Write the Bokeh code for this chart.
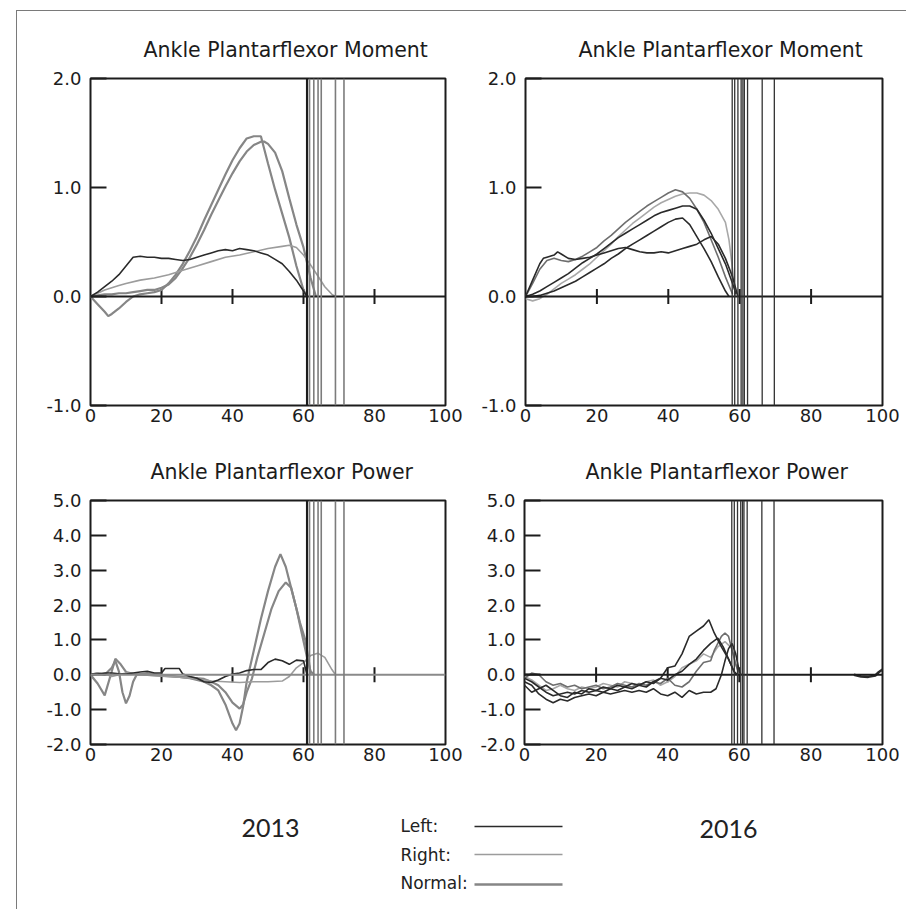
from bokeh.plotting import figure
from bokeh.layouts import row, column
from bokeh.models import Range1d, FixedTicker, PrintfTickFormatter, Span
from bokeh.core.properties import value
from bokeh.embed import file_html
from bokeh.resources import INLINE

# ---------------- data ----------------
x_ticks = [0, 20, 40, 60, 80, 100]
cross_ticks = [20, 40, 60, 80]
moment_ticks = [-1.0, 0.0, 1.0, 2.0]
power_ticks = [-2.0, -1.0, 0.0, 1.0, 2.0, 3.0, 4.0, 5.0]
moment_range = [-1.0, 2.0]
power_range = [-2.0, 5.0]

# toe-off event lines (% gait cycle)
events_2013 = [61.0, 61.7, 62.9, 64.1, 65.0, 69.0, 71.4]
events_2013_dark = [True, False, False, False, False, False, False]
events_2016 = [57.9, 58.6, 59.5, 60.4, 60.9, 61.3, 62.2, 66.3, 69.7]

# 2013 ankle moment
m13_left_x = [0, 2, 4, 6, 8, 10, 12, 14, 16, 18, 20, 22, 24, 26, 28, 30, 32, 34, 36, 38, 40, 42, 44, 46, 48, 50, 52, 54, 56, 58, 60, 61]
m13_left_y = [0.00, 0.04, 0.09, 0.14, 0.20, 0.28, 0.36, 0.37, 0.36, 0.36, 0.35, 0.35, 0.34, 0.33, 0.34, 0.36, 0.38, 0.40, 0.42, 0.43, 0.42, 0.44, 0.43, 0.42, 0.40, 0.38, 0.34, 0.30, 0.23, 0.15, 0.05, 0.00]
m13_right_x = [0, 2, 4, 6, 8, 10, 14, 18, 22, 26, 30, 34, 38, 42, 46, 50, 54, 56, 58, 60, 62, 64, 66, 68, 69]
m13_right_y = [0.00, 0.03, 0.06, 0.08, 0.10, 0.12, 0.15, 0.17, 0.20, 0.24, 0.28, 0.32, 0.36, 0.38, 0.41, 0.44, 0.46, 0.47, 0.45, 0.38, 0.29, 0.19, 0.09, 0.02, 0.00]
m13_norm1_x = [0, 2, 4, 5, 6, 8, 10, 12, 14, 16, 18, 20, 22, 24, 26, 28, 30, 32, 34, 36, 38, 40, 42, 44, 46, 48, 50, 52, 54, 56, 58, 60, 61]
m13_norm1_y = [0.00, -0.07, -0.14, -0.18, -0.16, -0.11, -0.05, 0.00, 0.02, 0.03, 0.04, 0.06, 0.12, 0.20, 0.30, 0.42, 0.55, 0.70, 0.84, 0.98, 1.12, 1.25, 1.36, 1.45, 1.47, 1.47, 1.22, 0.98, 0.76, 0.54, 0.28, 0.06, 0.00]
m13_norm2_x = [0, 2, 4, 6, 8, 10, 12, 14, 16, 18, 20, 22, 24, 26, 28, 30, 32, 34, 36, 38, 40, 42, 44, 46, 48, 49, 50, 52, 54, 56, 58, 60, 62, 63.5]
m13_norm2_y = [0.00, 0.01, 0.02, 0.02, 0.03, 0.03, 0.04, 0.05, 0.06, 0.06, 0.08, 0.11, 0.17, 0.26, 0.36, 0.48, 0.61, 0.75, 0.88, 1.01, 1.13, 1.24, 1.33, 1.39, 1.42, 1.42, 1.40, 1.32, 1.15, 0.90, 0.66, 0.45, 0.17, 0.00]

# 2016 ankle moment
m16_l1_x = [0, 2, 4, 6, 8, 10, 12, 14, 16, 18, 20, 22, 24, 26, 28, 30, 32, 34, 36, 38, 40, 42, 44, 46, 48, 50, 52, 54, 56, 58, 59]
m16_l1_y = [0.00, 0.02, 0.05, 0.09, 0.13, 0.17, 0.21, 0.26, 0.31, 0.35, 0.39, 0.44, 0.49, 0.54, 0.58, 0.62, 0.66, 0.70, 0.74, 0.77, 0.79, 0.81, 0.83, 0.83, 0.80, 0.70, 0.58, 0.44, 0.30, 0.12, 0.02]
m16_l2_x = [0, 2, 4, 6, 8, 10, 12, 14, 16, 18, 20, 22, 24, 26, 28, 30, 32, 34, 36, 38, 40, 42, 44, 46, 48, 50, 52, 54, 56, 57]
m16_l2_y = [0.00, 0.00, 0.01, 0.03, 0.05, 0.08, 0.11, 0.14, 0.18, 0.22, 0.26, 0.30, 0.35, 0.39, 0.44, 0.48, 0.52, 0.56, 0.60, 0.64, 0.68, 0.71, 0.72, 0.66, 0.55, 0.44, 0.32, 0.18, 0.05, 0.00]
m16_l3_x = [0, 2, 4, 5, 6, 8, 9, 10, 12, 14, 16, 18, 20, 22, 24, 26, 28, 30, 32, 34, 36, 38, 40, 42, 44, 46, 48, 50, 52, 54, 56, 58, 59.5]
m16_l3_y = [0.00, 0.15, 0.30, 0.35, 0.36, 0.38, 0.41, 0.39, 0.35, 0.34, 0.35, 0.36, 0.38, 0.40, 0.42, 0.44, 0.45, 0.43, 0.41, 0.40, 0.40, 0.41, 0.40, 0.42, 0.44, 0.46, 0.48, 0.52, 0.55, 0.48, 0.35, 0.18, 0.00]
m16_r1_x = [0, 2, 4, 6, 8, 10, 12, 14, 16, 18, 20, 22, 24, 26, 28, 30, 32, 34, 36, 38, 40, 42, 44, 46, 48, 50, 52, 54, 56, 58]
m16_r1_y = [0.00, 0.12, 0.25, 0.33, 0.35, 0.33, 0.32, 0.34, 0.37, 0.41, 0.45, 0.51, 0.56, 0.62, 0.68, 0.73, 0.78, 0.83, 0.87, 0.91, 0.95, 0.98, 0.96, 0.90, 0.80, 0.68, 0.52, 0.36, 0.18, 0.02]
m16_r2_x = [0, 2, 4, 6, 8, 10, 12, 14, 16, 18, 20, 22, 24, 26, 28, 30, 32, 34, 36, 38, 40, 42, 44, 46, 48, 50, 52, 54, 56, 57, 58, 58.8]
m16_r2_y = [-0.02, -0.04, -0.02, 0.02, 0.07, 0.12, 0.16, 0.20, 0.25, 0.30, 0.36, 0.42, 0.48, 0.55, 0.61, 0.67, 0.72, 0.77, 0.82, 0.86, 0.89, 0.92, 0.94, 0.95, 0.95, 0.93, 0.88, 0.80, 0.68, 0.52, 0.25, 0.00]

# 2013 ankle power
p13_left_x = [0, 2, 4, 6, 8, 10, 12, 14, 16, 18, 20, 21, 25, 26, 28, 30, 32, 34, 36, 38, 40, 42, 44, 46, 48, 50, 52, 54, 56, 58, 60, 61]
p13_left_y = [0.00, 0.02, 0.05, 0.05, 0.03, 0.02, 0.05, 0.08, 0.10, 0.05, 0.05, 0.18, 0.18, 0.02, -0.05, -0.10, -0.20, -0.22, -0.15, -0.05, 0.02, 0.05, 0.12, 0.15, 0.15, 0.35, 0.45, 0.40, 0.30, 0.42, 0.40, 0.00]
p13_right_x = [0, 2, 4, 6, 8, 10, 14, 18, 22, 26, 30, 34, 38, 42, 46, 50, 54, 56, 58, 60, 62, 64, 66, 68, 69]
p13_right_y = [0.00, 0.05, 0.02, -0.05, 0.00, 0.05, 0.00, -0.02, -0.05, -0.08, -0.12, -0.18, -0.20, -0.22, -0.20, -0.20, -0.18, -0.05, 0.20, 0.35, 0.55, 0.62, 0.50, 0.15, 0.00]
p13_norm1_x = [0, 2, 4, 6, 7, 8.5, 10, 12, 16, 20, 24, 28, 32, 34, 36, 38, 40, 41, 42, 43, 44, 46, 48, 50, 52, 53.5, 55, 57, 59, 60.5, 61.5, 62]
p13_norm1_y = [0.00, -0.25, -0.59, 0.10, 0.46, 0.30, 0.08, 0.03, 0.00, -0.03, -0.05, -0.10, -0.20, -0.30, -0.45, -0.85, -1.40, -1.59, -1.40, -0.90, -0.20, 0.70, 1.60, 2.40, 3.10, 3.46, 3.10, 2.30, 1.50, 1.00, 0.40, 0.00]
p13_norm2_x = [0, 2, 4, 6, 7, 8, 9, 10, 11, 12, 13, 16, 20, 24, 28, 32, 34, 36, 38, 40, 42, 43, 44, 45.5, 47, 49, 51, 53, 55, 56.5, 58, 59.5, 61, 62, 63]
p13_norm2_y = [0.00, 0.05, 0.00, 0.20, 0.40, 0.10, -0.50, -0.82, -0.60, -0.20, 0.00, 0.05, 0.00, -0.05, -0.08, -0.12, -0.20, -0.30, -0.50, -0.80, -0.97, -0.85, -0.50, -0.10, 0.50, 1.20, 1.90, 2.40, 2.65, 2.50, 1.90, 1.20, 0.50, 0.10, 0.00]

# 2016 ankle power
p16_l1_x = [0, 2, 4, 6, 8, 10, 12, 14, 16, 18, 20, 22, 24, 26, 28, 30, 32, 34, 36, 38, 40, 42, 44, 46, 48, 50, 51.5, 53, 55, 57, 58.5, 59]
p16_l1_y = [-0.10, -0.20, -0.35, -0.50, -0.60, -0.55, -0.50, -0.55, -0.45, -0.50, -0.45, -0.50, -0.40, -0.45, -0.35, -0.40, -0.30, -0.35, -0.20, -0.10, 0.20, 0.25, 0.60, 1.10, 1.25, 1.40, 1.58, 1.20, 0.80, 0.45, 0.10, 0.00]
p16_l2_x = [0, 2, 4, 6, 8, 10, 12, 14, 16, 18, 20, 22, 24, 26, 28, 30, 32, 34, 36, 38, 40, 42, 44, 46, 48, 50, 52, 54, 55.5, 57, 58.5, 59.5]
p16_l2_y = [-0.30, -0.50, -0.40, -0.30, -0.45, -0.60, -0.65, -0.50, -0.55, -0.40, -0.45, -0.35, -0.40, -0.30, -0.35, -0.25, -0.30, -0.20, -0.25, -0.10, -0.15, 0.00, 0.10, 0.30, 0.45, 0.70, 0.90, 1.05, 0.80, 0.45, 0.10, 0.00]
p16_l3_x = [0, 2, 4, 6, 8, 10, 12, 14, 16, 18, 20, 22, 24, 26, 28, 30, 32, 34, 36, 38, 40, 42, 44, 46, 48, 50, 52, 53.5, 55, 56, 57, 58, 59, 60, 60.5]
p16_l3_y = [-0.20, -0.30, -0.55, -0.70, -0.80, -0.70, -0.75, -0.65, -0.60, -0.55, -0.60, -0.50, -0.55, -0.50, -0.45, -0.50, -0.45, -0.50, -0.40, -0.55, -0.60, -0.50, -0.65, -0.45, -0.55, -0.50, -0.50, -0.40, 0.00, 0.40, 0.75, 0.90, 0.60, 0.10, 0.00]
p16_r1_x = [0, 2, 4, 6, 8, 10, 12, 14, 16, 18, 20, 22, 24, 26, 28, 30, 32, 34, 36, 38, 40, 42, 44, 46, 48, 50, 52, 53, 55, 56, 57, 58, 59, 60]
p16_r1_y = [-0.10, 0.05, 0.00, -0.20, -0.30, -0.25, -0.35, -0.30, -0.40, -0.35, -0.30, -0.40, -0.35, -0.25, -0.30, -0.35, -0.25, -0.30, -0.20, -0.25, -0.10, -0.30, -0.35, -0.20, 0.10, 0.35, 0.40, 0.70, 1.10, 1.20, 1.10, 0.70, 0.30, 0.00]
p16_r2_x = [0, 2, 4, 6, 8, 10, 12, 14, 16, 18, 20, 22, 24, 26, 28, 30, 32, 34, 36, 38, 40, 42, 44, 46, 48, 50, 52, 54, 56, 57, 58, 59, 60]
p16_r2_y = [-0.05, -0.15, -0.30, -0.45, -0.40, -0.30, -0.40, -0.45, -0.35, -0.40, -0.35, -0.25, -0.30, -0.35, -0.20, -0.25, -0.30, -0.20, -0.15, -0.30, -0.20, -0.05, 0.20, 0.30, 0.40, 0.60, 0.50, 0.80, 0.95, 0.85, 0.75, 0.30, 0.00]
p16_tail_x = [92, 94, 96, 98, 99, 100]
p16_tail_y = [0.00, -0.05, -0.06, -0.02, 0.08, 0.15]

panel_titles = ["Ankle Plantarflexor Moment", "Ankle Plantarflexor Moment",
                "Ankle Plantarflexor Power", "Ankle Plantarflexor Power"]
year_labels = ["2013", "2016"]
legend_labels = ["Left:", "Right:", "Normal:"]

# ---------------- style ----------------
FONT = "DejaVu Sans"
INK = "#1c1c1c"
LEFT_C = "#2a2a2a"
RIGHT_C = "#9c9c9c"
NORM_C = "#868686"
LW = 1.6
NW = 2.2


def panel(title, yr, yticks, w, h, bl, br, bt, bb, toff, zero_color):
    p = figure(width=w, height=h, x_range=Range1d(0, 100), y_range=Range1d(yr[0], yr[1]),
               output_backend="svg", toolbar_location=None,
               min_border_left=bl, min_border_right=br, min_border_top=bt, min_border_bottom=bb)
    p.title.text = title
    p.title.align = "left"
    p.title.offset = toff
    p.title.text_font = FONT
    p.title.text_font_size = "20.5px"
    p.title.text_font_style = "normal"
    p.title.text_color = INK
    p.title.standoff = 33
    p.xgrid.visible = False
    p.ygrid.visible = False
    p.outline_line_color = INK
    p.outline_line_width = 2
    p.background_fill_color = "white"
    p.border_fill_color = "white"

    p.xaxis.ticker = FixedTicker(ticks=x_ticks)
    p.xaxis.major_tick_in = 0
    p.xaxis.major_tick_out = 0
    p.xaxis.minor_tick_line_color = None
    p.xaxis.axis_line_color = None
    p.xaxis.major_label_standoff = 3
    p.xaxis.major_label_text_font = FONT
    p.xaxis.major_label_text_font_size = "18px"
    p.xaxis.major_label_text_color = INK

    p.yaxis.ticker = FixedTicker(ticks=yticks)
    p.yaxis.formatter = PrintfTickFormatter(format="%.1f")
    p.yaxis.major_tick_in = 16
    p.yaxis.major_tick_out = 0
    p.yaxis.major_tick_line_width = 2
    p.yaxis.major_tick_line_color = INK
    p.yaxis.minor_tick_line_color = None
    p.yaxis.axis_line_color = None
    p.yaxis.major_label_standoff = 9
    p.yaxis.major_label_text_font = FONT
    p.yaxis.major_label_text_font_size = "18px"
    p.yaxis.major_label_text_color = INK

    p.add_layout(Span(location=0, dimension="width", line_color=zero_color, line_width=2))
    p.scatter(x=cross_ticks, y=[0] * len(cross_ticks), marker="dash", angle=1.5708,
              size=15, line_color=INK, line_width=2)
    return p


def add_events_2013(p):
    for x, d in zip(events_2013, events_2013_dark):
        if d:
            p.add_layout(Span(location=x, dimension="height", line_color=INK, line_width=2.2))
        else:
            p.add_layout(Span(location=x, dimension="height", line_color="#7c7c7c", line_width=1.6))


def add_events_2016(p):
    for x in events_2016:
        p.add_layout(Span(location=x, dimension="height", line_color="#333333", line_width=1.3))


# top-left: 2013 moment
p1 = panel(panel_titles[0], moment_range, moment_ticks, 448, 429, 73, 20, 67, 34, 53, INK)
add_events_2013(p1)
p1.line(m13_norm1_x, m13_norm1_y, line_color=NORM_C, line_width=NW)
p1.line(m13_norm2_x, m13_norm2_y, line_color=NORM_C, line_width=NW)
p1.line(m13_right_x, m13_right_y, line_color=RIGHT_C, line_width=LW)
p1.line(m13_left_x, m13_left_y, line_color=LEFT_C, line_width=LW)

# top-right: 2016 moment
p2 = panel(panel_titles[1], moment_range, moment_ticks, 442, 429, 60, 25, 65, 35, 53, INK)
add_events_2016(p2)
p2.line(m16_r2_x, m16_r2_y, line_color="#a8a8a8", line_width=LW)
p2.line(m16_r1_x, m16_r1_y, line_color="#6e6e6e", line_width=LW)
p2.line(m16_l3_x, m16_l3_y, line_color=LEFT_C, line_width=LW)
p2.line(m16_l2_x, m16_l2_y, line_color=LEFT_C, line_width=LW)
p2.line(m16_l1_x, m16_l1_y, line_color=LEFT_C, line_width=LW)

# bottom-left: 2013 power
p3 = panel(panel_titles[2], power_range, power_ticks, 448, 350, 73, 20, 59, 46, 60, "#8a8a8a")
add_events_2013(p3)
p3.line(p13_norm1_x, p13_norm1_y, line_color=NORM_C, line_width=NW)
p3.line(p13_norm2_x, p13_norm2_y, line_color=NORM_C, line_width=NW)
p3.line(p13_right_x, p13_right_y, line_color=RIGHT_C, line_width=LW)
p3.line(p13_left_x, p13_left_y, line_color=LEFT_C, line_width=LW)

# bottom-right: 2016 power
p4 = panel(panel_titles[3], power_range, power_ticks, 442, 350, 59, 25, 60, 44, 61, INK)
add_events_2016(p4)
p4.line(p16_r2_x, p16_r2_y, line_color="#a8a8a8", line_width=LW)
p4.line(p16_r1_x, p16_r1_y, line_color="#6e6e6e", line_width=LW)
p4.line(p16_l3_x, p16_l3_y, line_color=LEFT_C, line_width=LW)
p4.line(p16_l2_x, p16_l2_y, line_color=LEFT_C, line_width=LW)
p4.line(p16_l1_x, p16_l1_y, line_color=LEFT_C, line_width=LW)
p4.line(p16_tail_x, p16_tail_y, line_color=LEFT_C, line_width=2.5)

# legend / caption strip
lf = figure(width=890, height=120, x_range=Range1d(0, 890), y_range=Range1d(120, 0),
            output_backend="svg", toolbar_location=None, min_border=0,
            x_axis_type=None, y_axis_type=None)
lf.outline_line_color = None
lf.xgrid.visible = False
lf.ygrid.visible = False
lf.text(x=[253, 711], y=[37, 38], text=year_labels, text_font=value("Lato"),
        text_font_size="25px", text_align="center", text_baseline="middle", text_color="#222222")
lf.text(x=[383, 383, 383], y=[35, 64, 92], text=legend_labels, text_font=value(FONT),
        text_font_size="17px", text_align="left", text_baseline="middle", text_color="#222222")
lf.segment(x0=[457, 457, 457], x1=[545, 545, 545], y0=[36, 64, 94], y1=[36, 64, 94],
           line_color=[LEFT_C, RIGHT_C, NORM_C], line_width=[1.6, 1.6, 2.6])

layout = column(row(p1, p2), row(p3, p4), lf, margin=(11, 0, 0, 17),
                styles={"box-shadow": "-1px -1px 0 0 #7a7a7a"})

open("out.html", "w").write(file_html(layout, INLINE))
